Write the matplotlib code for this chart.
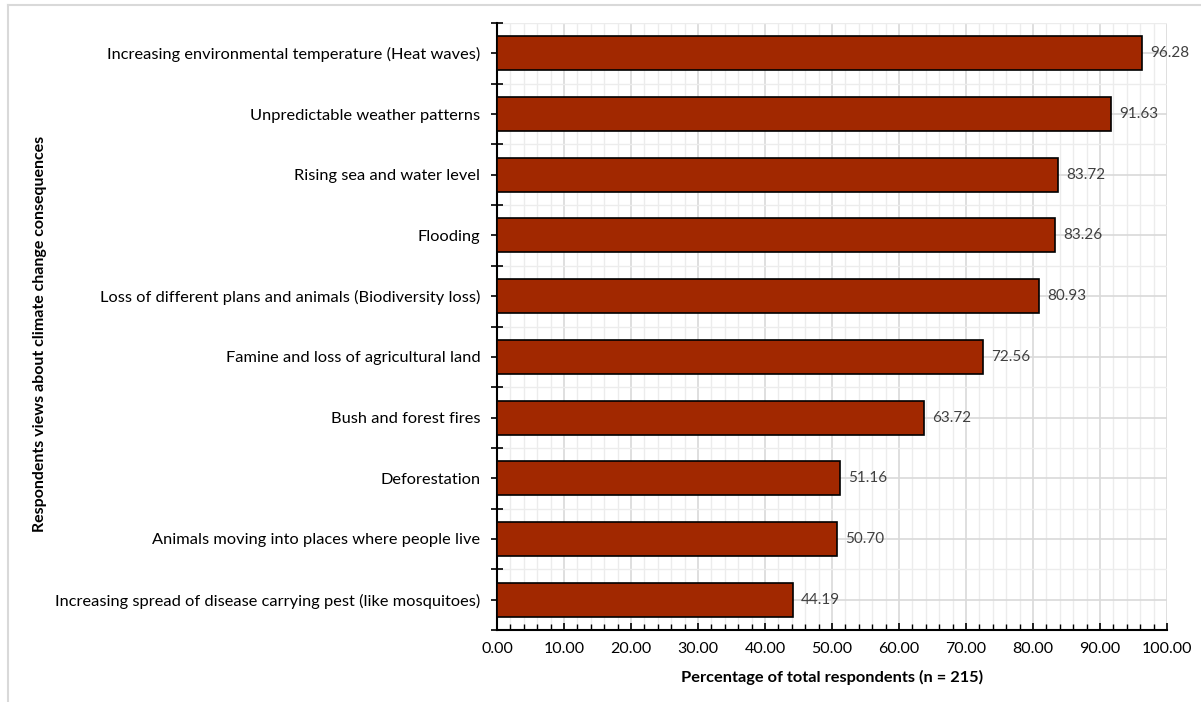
import numpy as np
import matplotlib.pyplot as plt
from matplotlib.ticker import MultipleLocator, FormatStrFormatter
from matplotlib.lines import Line2D

plt.rcParams['font.family'] = ['Lato', 'DejaVu Sans']

# data (top to bottom as shown)
categories = [
    "Increasing environmental temperature (Heat waves)",
    "Unpredictable weather patterns",
    "Rising sea and water level",
    "Flooding",
    "Loss of different plans and animals (Biodiversity loss)",
    "Famine and loss of agricultural land",
    "Bush and forest fires",
    "Deforestation",
    "Animals moving into places where people live",
    "Increasing spread of disease carrying pest (like mosquitoes)",
]
percent = [96.28, 91.63, 83.72, 83.26, 80.93, 72.56, 63.72, 51.16, 50.70, 44.19]

fig = plt.figure(figsize=(12.01, 7.02), dpi=100)
ax = fig.add_axes([0.4138, 0.1026, 0.5579, 0.8646])

# outer frame (left and top only visible)
fig.add_artist(Line2D([8/1201, 8/1201], [0, 1 - 5/702], transform=fig.transFigure,
                      color='#d9d9d9', lw=1.5))
fig.add_artist(Line2D([8/1201, 1], [1 - 5/702, 1 - 5/702], transform=fig.transFigure,
                      color='#d9d9d9', lw=1.5))

y = np.arange(len(categories))
ax.barh(y, percent, height=0.56, color='#a12800', edgecolor='black', linewidth=1.2, zorder=3)

ax.set_ylim(len(categories) - 0.5, -0.5)
ax.set_xlim(0, 100)

for yi, v in zip(y, percent):
    ax.text(v + 1.2, yi, f"{v:.2f}", va='center', ha='left', fontsize=11, color='#404040', zorder=4)

ax.set_yticks(y)
ax.set_yticklabels(categories, fontsize=11.8)
ax.set_yticks(np.arange(-0.5, len(categories), 1), minor=True)

ax.xaxis.set_major_locator(MultipleLocator(10))
ax.xaxis.set_minor_locator(MultipleLocator(2))
ax.xaxis.set_major_formatter(FormatStrFormatter('%.2f'))
ax.tick_params(axis='x', labelsize=11.5, direction='in', length=5, width=1.2, pad=9)
ax.tick_params(axis='x', which='minor', direction='in', length=4, width=1)
ax.tick_params(axis='y', direction='inout', length=8, width=1.2, pad=8)
ax.tick_params(axis='y', which='minor', direction='inout', length=8, width=1.2)

ax.grid(True, which='major', color='#d9d9d9', lw=1.2, zorder=0)
ax.grid(True, which='minor', color='#ececec', lw=1.0, zorder=0)
ax.set_axisbelow(True)

for s in ['top', 'right']:
    ax.spines[s].set_visible(False)
ax.spines['left'].set_linewidth(1.5)
ax.spines['bottom'].set_linewidth(1.5)

ax.set_xlabel("Percentage of total respondents (n = 215)", fontsize=11.8, fontweight='bold', labelpad=10)
fig.text(40/1201, 1 - 334/702, "Respondents views about climate change consequences", rotation=90,
         ha='center', va='center', fontsize=11.5, fontweight='bold')

fig.savefig('out.png', dpi=100)
